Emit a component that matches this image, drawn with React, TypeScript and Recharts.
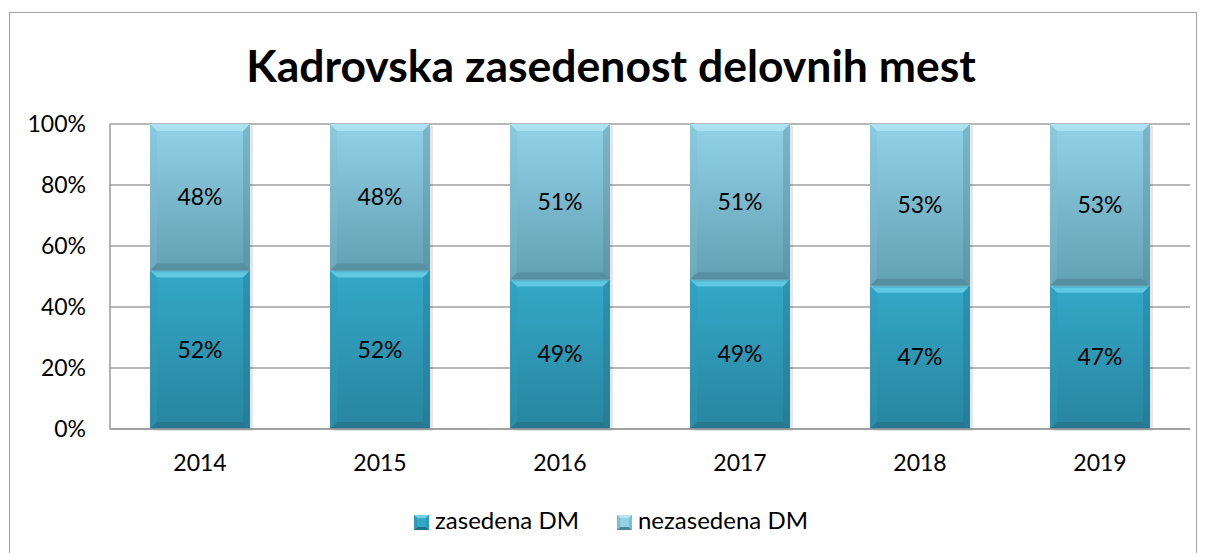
import React from "react";
import { BarChart, Bar, XAxis, YAxis, CartesianGrid, LabelList } from "recharts";

const years = ["2014", "2015", "2016", "2017", "2018", "2019"];
const zasedena = [52, 52, 49, 49, 47, 47];
const nezasedena = [48, 48, 51, 51, 53, 53];
const yTicks = [0, 20, 40, 60, 80, 100];

const data = years.map((y, i) => ({ year: y, zasedena: zasedena[i], nezasedena: nezasedena[i] }));

const FONT = "Lato, 'Open Sans', sans-serif";

type Palette = { id: string; top: string; bottom: string; cap: string; side: string; base: string };

const palZ: Palette = { id: "gz", top: "#34a8c8", bottom: "#28859f", cap: "#6fd3ec", side: "#2e9bb9", base: "#236f85" };
const palN: Palette = { id: "gn", top: "#92d2e7", bottom: "#62a0b3", cap: "#b4e6f4", side: "#7fbccf", base: "#4f8494" };

const bevel = (pal: Palette) => (props: any) => {
  const { x, y, width, height } = props;
  if (!height || height <= 0) return null;
  const b = 7;
  const x2 = x + width;
  const y2 = y + height;
  return (
    <g>
      <rect x={x + 3} y={y + 2} width={width} height={height} fill="#000" opacity={0.1} />
      <rect x={x} y={y} width={width} height={height} fill={`url(#${pal.id})`} />
      <polygon points={`${x},${y} ${x2},${y} ${x2 - b},${y + b} ${x + b},${y + b}`} fill={pal.cap} opacity={0.75} />
      <polygon points={`${x},${y} ${x + b},${y + b} ${x + b},${y2 - b} ${x},${y2}`} fill={pal.side} opacity={0.35} />
      <polygon points={`${x2},${y} ${x2 - b},${y + b} ${x2 - b},${y2 - b} ${x2},${y2}`} fill={pal.base} opacity={0.35} />
      <polygon points={`${x},${y2} ${x + b},${y2 - b} ${x2 - b},${y2 - b} ${x2},${y2}`} fill={pal.base} opacity={0.6} />
    </g>
  );
};

const Icon = ({ pal }: { pal: Palette }) => (
  <svg width={15} height={15} style={{ marginRight: 6, verticalAlign: "-1px" }}>
    <rect x={0} y={0} width={15} height={15} fill={pal.top} />
    <polygon points="0,0 15,0 12,3 3,3" fill={pal.cap} />
    <polygon points="0,15 3,12 12,12 15,15" fill={pal.base} />
    <polygon points="0,0 3,3 3,12 0,15" fill={pal.side} />
    <polygon points="15,0 12,3 12,12 15,15" fill={pal.side} />
  </svg>
);

export default function App() {
  return (
    <div style={{ position: "absolute", left: 0, top: 0, width: 1206, height: 553, background: "#fff" }}>
      <div style={{ position: "absolute", left: 9, top: 12, width: 1186, height: 545, border: "1px solid #a6a6a6" }} />
      <div style={{ position: "absolute", left: 0, top: 38, width: 1222, textAlign: "center", fontFamily: FONT, fontWeight: 700, fontSize: 44.5, color: "#000" }}>
        Kadrovska zasedenost delovnih mest
      </div>
      <div style={{ position: "absolute", left: 0, top: 505, width: 1222, display: "flex", justifyContent: "center", gap: 38, fontFamily: FONT, fontSize: 24, color: "#000" }}>
        <span><Icon pal={palZ} />zasedena DM</span>
        <span><Icon pal={palN} />nezasedena DM</span>
      </div>
      <BarChart width={1206} height={553} data={data} margin={{ top: 124, right: 16, left: 0, bottom: 94 }} barSize={100} style={{ position: "absolute", left: 0, top: 0 }}>
        <defs>
          {[palZ, palN].map((p) => (
            <linearGradient key={p.id} id={p.id} x1="0" y1="0" x2="0" y2="1">
              <stop offset="0%" stopColor={p.top} />
              <stop offset="100%" stopColor={p.bottom} />
            </linearGradient>
          ))}
        </defs>
        <CartesianGrid vertical={false} stroke="#a0a0a0" strokeWidth={1.5} />
        <XAxis dataKey="year" height={30} tickLine={false} axisLine={{ stroke: "#9a9a9a", strokeWidth: 1.5 }} tickSize={0} tickMargin={26} tick={{ fill: "#000", fontSize: 23, fontFamily: FONT }} />
        <YAxis width={110} domain={[0, 100]} ticks={yTicks} tickFormatter={(v) => `${v}%`} tickLine={false} axisLine={{ stroke: "#9a9a9a", strokeWidth: 1.5 }} tickSize={0} tickMargin={24} tick={{ fill: "#000", fontSize: 23, fontFamily: FONT }} />
        <Bar dataKey="zasedena" name="zasedena DM" stackId="a" shape={bevel(palZ)} isAnimationActive={false}>
          <LabelList dataKey="zasedena" position="center" formatter={(v: any) => `${v}%`} fill="#000" fontSize={23} fontFamily={FONT} />
        </Bar>
        <Bar dataKey="nezasedena" name="nezasedena DM" stackId="a" shape={bevel(palN)} isAnimationActive={false}>
          <LabelList dataKey="nezasedena" position="center" formatter={(v: any) => `${v}%`} fill="#000" fontSize={23} fontFamily={FONT} />
        </Bar>
      </BarChart>
    </div>
  );
}
